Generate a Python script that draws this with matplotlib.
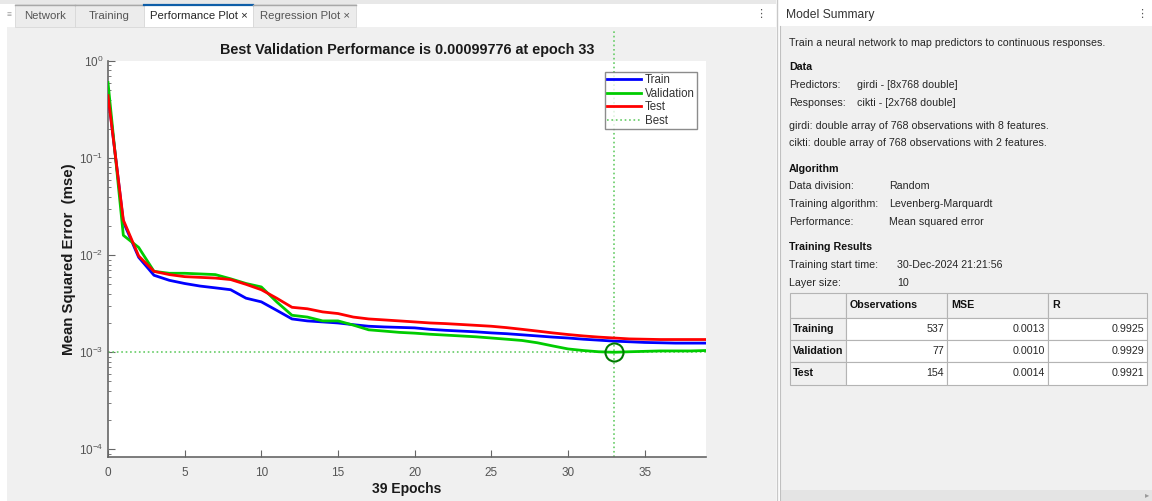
import matplotlib.pyplot as plt
from matplotlib.patches import Rectangle
import numpy as np

plt.rcParams['font.family'] = ['Liberation Sans', 'DejaVu Sans']

# performance per epoch
epochs = list(range(0, 40))
train = [0.46, 0.022, 0.0095, 0.0062, 0.0055, 0.0051, 0.0048, 0.0046, 0.0044, 0.0036,
         0.0033, 0.0027, 0.0022, 0.0021, 0.00205, 0.0020, 0.00192, 0.00185, 0.00182, 0.0018,
         0.00178, 0.00172, 0.00168, 0.00165, 0.00162, 0.00158, 0.00155, 0.00151, 0.00147, 0.00143,
         0.0014, 0.00136, 0.00133, 0.0013, 0.00128, 0.00126, 0.00125, 0.00124, 0.00124, 0.00124]
valid = [0.6, 0.016, 0.012, 0.0068, 0.0065, 0.0065, 0.0064, 0.0063, 0.0057, 0.0051,
         0.0047, 0.0033, 0.0024, 0.0023, 0.0021, 0.0021, 0.0019, 0.0017, 0.00165, 0.0016,
         0.00157, 0.00153, 0.0015, 0.00147, 0.00144, 0.0014, 0.00136, 0.00132, 0.00125, 0.00116,
         0.00108, 0.00104, 0.00101, 0.00099776, 0.00101, 0.00102, 0.00103, 0.00103, 0.00103, 0.00104]
test = [0.44, 0.023, 0.0098, 0.0068, 0.0063, 0.006, 0.0059, 0.0058, 0.0056, 0.005,
        0.0044, 0.0036, 0.0029, 0.0028, 0.0026, 0.0025, 0.0023, 0.0022, 0.00215, 0.0021,
        0.00205, 0.002, 0.00197, 0.00193, 0.00189, 0.00185, 0.00179, 0.00172, 0.00165, 0.00158,
        0.00152, 0.00147, 0.00143, 0.0014, 0.00137, 0.00136, 0.00135, 0.00135, 0.00135, 0.00135]
best_epoch = 33
best_perf = 0.00099776

tabs = ["Network", "Training", "Performance Plot \u00d7", "Regression Plot \u00d7"]
tab_x = [15, 75, 144, 253, 356]

summary_rows = [
    ("Predictors:", "girdi - [8x768 double]"),
    ("Responses:", "cikti - [2x768 double]"),
]
algo_rows = [
    ("Data division:", "Random"),
    ("Training algorithm:", "Levenberg-Marquardt"),
    ("Performance:", "Mean squared error"),
]
result_rows = [
    ("Training start time:", "30-Dec-2024 21:21:56"),
    ("Layer size:", "10"),
]
table_cols = ["", "Observations", "MSE", "R"]
table_rows = ["Training", "Validation", "Test"]
obs = [537, 77, 154]
mse = [0.0013, 0.0010, 0.0014]
rval = [0.9925, 0.9929, 0.9921]

W, H = 1152, 501
fig = plt.figure(figsize=(W / 100, H / 100), dpi=100)
fig.patch.set_facecolor('white')

# background canvas in pixel coordinates
bg = fig.add_axes([0, 0, 1, 1])
bg.set_xlim(0, W)
bg.set_ylim(H, 0)
bg.axis('off')

def rect(x0, y0, x1, y1, fc, ec='none', lw=0.8, z=1):
    bg.add_patch(Rectangle((x0, y0), x1 - x0, y1 - y0, facecolor=fc, edgecolor=ec, linewidth=lw, zorder=z))

def txt(x, y, s, size=7.7, weight='normal', ha='left', color='#262626'):
    bg.text(x, y, s, fontsize=size, fontweight=weight, ha=ha, va='center', color=color, zorder=5)

# left document area
rect(0, 0, 776, 4, '#e8e8e8')
rect(0, 4, 776, 27, 'white')
rect(7, 27, 776, 501, '#f0f0f0')
txt(7, 15, "\u2261", size=6, color='#9a9a9a')
for i, name in enumerate(tabs):
    x0, x1 = tab_x[i], tab_x[i + 1]
    active = i == 2
    rect(x0, 4, x1, 27, 'white' if active else '#ececec', ec='#d8d8d8', lw=0.6)
    bg.plot([x0, x1], [4.5, 4.5], color='#0e5ea8' if active else '#a8a8a8', lw=1.6 if active else 1.0, zorder=3)
    txt((x0 + x1) / 2, 16, name, size=8.2, ha='center', color='#262626' if active else '#555555')
txt(761, 14, "\u22ee", size=8, ha='center', color='#555555')

# right model summary panel
bg.plot([777, 777], [0, H], color='#c8c8c8', lw=1)
rect(780, 3, W, 26, 'white')
rect(780, 26, W, 501, '#f0f0f0')
bg.plot([780, 780], [26, H], color='#c0c0c0', lw=0.8)
txt(786, 15, "Model Summary", size=8.7, color='#333333')
txt(1142, 14, "\u22ee", size=8, ha='center', color='#555555')

txt(789, 43, "Train a neural network to map predictors to continuous responses.")
txt(789, 67, "Data", weight='bold', color='#111111')
for k, (a, b) in enumerate(summary_rows):
    txt(789, 85 + 18 * k, a)
    txt(857, 85 + 18 * k, b)
txt(789, 126, "girdi: double array of 768 observations with 8 features.")
txt(789, 143, "cikti: double array of 768 observations with 2 features.")
txt(789, 169, "Algorithm", weight='bold', color='#111111')
for k, (a, b) in enumerate(algo_rows):
    txt(789, 186 + 18 * k, a)
    txt(889, 186 + 18 * k, b)
txt(789, 247, "Training Results", weight='bold', color='#111111')
for k, (a, b) in enumerate(result_rows):
    txt(789, 265 + 18 * k, a)
    txt(897, 265 + 18 * k, b)

# results table
cx = [790, 846, 947, 1048, 1147]
ry = [293, 318, 340, 362, 385]
for c in range(4):
    for r in range(4):
        fc = '#f0f0f0' if (r == 0 or c == 0) else 'white'
        rect(cx[c], ry[r], cx[c + 1], ry[r + 1], fc, ec='#b4b4b4', lw=0.8, z=2)
for c in range(1, 4):
    txt(cx[c] + 4, (ry[0] + ry[1]) / 2, table_cols[c], weight='bold', color='#111111')
for r in range(3):
    ym = (ry[r + 1] + ry[r + 2]) / 2
    txt(cx[0] + 3, ym, table_rows[r], weight='bold', color='#111111')
    txt(cx[2] - 3, ym, str(obs[r]), ha='right')
    txt(cx[3] - 3, ym, f"{mse[r]:.4f}", ha='right')
    txt(cx[4] - 3, ym, f"{rval[r]:.4f}", ha='right')

rect(780, 490, W, 501, '#e4e4e4')
txt(1147, 496, "\u25b8", size=6, ha='center', color='#999999')

# performance plot
ax = fig.add_axes([108 / W, (H - 457) / H, (706 - 108) / W, (457 - 61) / H])
ax.set_facecolor('white')
ax.semilogy(epochs, train, color='#0000ff', lw=2, label='Train', zorder=3)
ax.semilogy(epochs, valid, color='#00cc00', lw=2, label='Validation', zorder=3)
ax.semilogy(epochs, test, color='#ff0000', lw=2, label='Test', zorder=3)
ymin = 10 ** -4.08
ax.plot([best_epoch, best_epoch], [ymin, 10 ** 0.33], ':', color='#66cc66', lw=1.2,
        label='Best', clip_on=False, zorder=2)
ax.plot([0, 39], [best_perf, best_perf], ':', color='#66cc66', lw=1.2, zorder=2)
ax.plot([best_epoch], [best_perf], 'o', mfc='none', mec='#007a00', ms=13, mew=1.5, zorder=4)

ax.set_xlim(0, 39)
ax.set_ylim(ymin, 1)
ax.set_xticks(range(0, 40, 5))
ax.set_yticks([1e-4, 1e-3, 1e-2, 1e-1, 1e0])
for s in ['top', 'right']:
    ax.spines[s].set_visible(False)
for s in ['left', 'bottom']:
    ax.spines[s].set_color('#666666')
    ax.spines[s].set_linewidth(1.2)
ax.tick_params(which='both', direction='in', colors='#666666', labelcolor='#555555', labelsize=8.5)
ax.tick_params(which='major', length=5)
ax.tick_params(which='minor', length=2.5)
ax.tick_params(axis='x', pad=7)

ax.set_title("Best Validation Performance is 0.00099776 at epoch 33", fontsize=10.4,
             fontweight='bold', color='#1a1a1a', pad=5)
ax.set_ylabel("Mean Squared Error  (mse)", fontsize=10.8, fontweight='bold', color='#1a1a1a', labelpad=2)
ax.set_xlabel("39 Epochs", fontsize=10, fontweight='bold', color='#1a1a1a', labelpad=2)

leg = ax.legend(loc='upper right', bbox_to_anchor=(0.985, 0.972), fontsize=8.3, frameon=True,
                fancybox=False, handlelength=3.0, handletextpad=0.3, borderpad=0.2,
                labelspacing=0.12, borderaxespad=0)
leg.get_frame().set_edgecolor('#707070')
leg.get_frame().set_linewidth(1.0)
for t in leg.get_texts():
    t.set_color('#333333')

fig.savefig('out.png', dpi=100)
